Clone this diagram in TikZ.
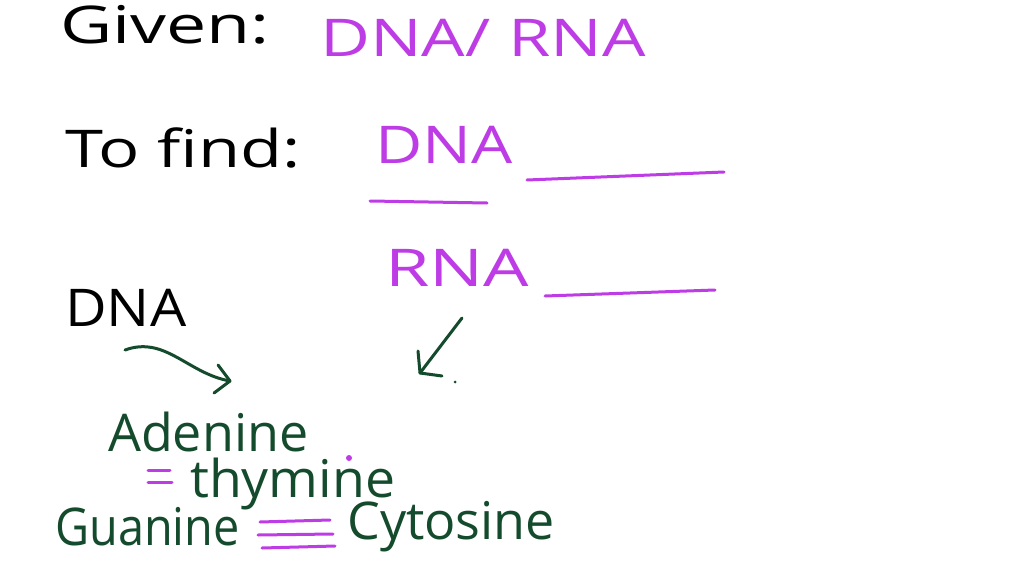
\documentclass[tikz,border=0pt]{standalone}
\usepackage{fontspec}
\setmainfont{Open Sans}
\definecolor{pur}{RGB}{190,60,230}
\definecolor{grn}{RGB}{20,75,45}
\newcommand\sx[2]{\scalebox{#1}[1]{#2}}
\begin{document}
\begin{tikzpicture}[x=1pt,y=-1pt,
  txt/.style={anchor=west,inner sep=0pt,font=\fontsize{52}{56}\selectfont},
  pen/.style={line width=3pt,line cap=round}]
\useasboundingbox[fill=white] (0,0) rectangle (1024,572);
\node[txt,black] (given) at (60,25) {\sx{1.38}{Given:}};
\node[txt,pur] (dr) at (320,38) {\sx{1.32}{DNA/ RNA}};
\node[txt,black] (tofind) at (65,148) {\sx{1.32}{To find:}};
\node[txt,pur] (dna1) at (375,145) {\sx{1.25}{DNA}};
\coordinate (l1a) at (527,180); \coordinate (l1b) at (724,172);
\draw[pen,pur] (l1a) -- (l1b);
\coordinate (l2a) at (370,201); \coordinate (l2b) at (487,203);
\draw[pen,pur] (l2a) -- (l2b);
\node[txt,pur] (rna1) at (385,268) {\sx{1.38}{RNA}};
\coordinate (l3a) at (545,296); \coordinate (l3b) at (715,290);
\draw[pen,pur] (l3a) -- (l3b);
\coordinate (a1s) at (462,318); \coordinate (a1e) at (420,373);
\draw[pen,grn] (a1s) -- (a1e);
\draw[pen,grn] (a1e) -- ++(-2,-22);
\draw[pen,grn] (a1e) -- ++(22,3);
\fill[grn] (455,382) circle (1.5);
\node[txt,black] (dna2) at (65,308) {\sx{1.1}{DNA}};
\coordinate (a2s) at (125,350); \coordinate (a2e) at (230,381);
\draw[pen,grn] (a2s) to[out=20,in=170] (a2e);
\draw[pen,grn] (a2e) -- ++(-12,-16);
\draw[pen,grn] (a2e) -- ++(-16,12);
\node[txt,grn] (ade) at (108,432) {Adenine};
\draw[pen,pur] (148,470) -- (170,470) (148,482) -- (172,482);
\node[txt,grn] (thy) at (190,484) {\sx{1.03}{thymine}};
\fill[pur] (349,458) circle (3);
\node[txt,grn] (gua) at (55,527) {\sx{0.9}{Guanine}};
\draw[pen,pur] (260,522) -- (330,520) (258,535) -- (333,534) (262,548) -- (335,546);
\node[txt,grn] (cyt) at (347,527) {Cytosine};
\end{tikzpicture}
\end{document}
